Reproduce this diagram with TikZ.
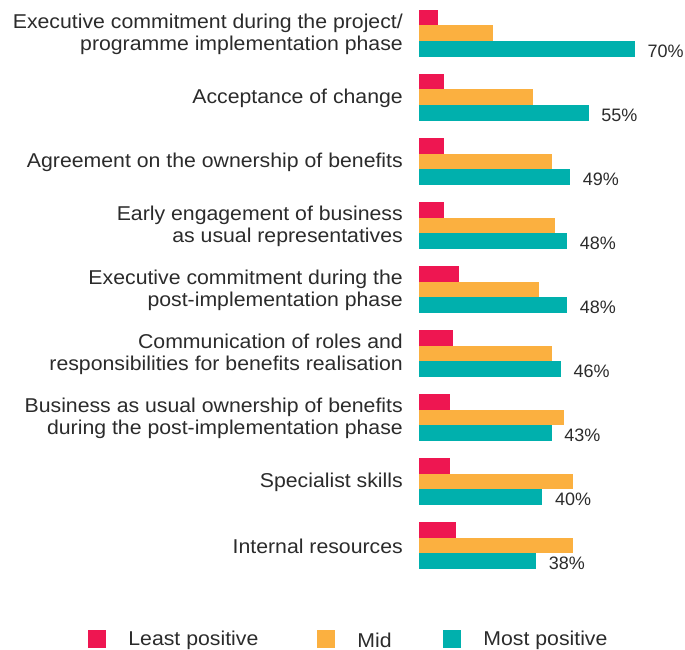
\documentclass[tikz,border=0pt]{standalone}
\usepackage{fontspec}
\setmainfont[FakeStretch=1.063]{Liberation Sans}
\newfontfamily\pctfont{Liberation Sans}
\usetikzlibrary{positioning}
\definecolor{leastred}{HTML}{EE1651}
\definecolor{midorange}{HTML}{FBB040}
\definecolor{mostteal}{HTML}{00B0AD}
\definecolor{labelgray}{HTML}{2B2B2B}

\begin{document}
\begin{tikzpicture}[x=1pt,y=-1pt,
    factor/.style={anchor=east,align=right,inner sep=0pt,text=labelgray,
      font=\fontsize{20}{22.5}\selectfont},
    pct/.style={anchor=base west,inner sep=0pt,text=labelgray,
      font=\pctfont\fontsize{18}{20}\selectfont},
    keybox/.style={minimum size=18pt,inner sep=0pt},
    keytext/.style={inner sep=0pt,text=labelgray,font=\fontsize{20}{22.5}\selectfont}]
  \useasboundingbox (0,0) rectangle (685,650);
  % bars: least / mid / most positive
  \foreach \txt/\lo/\mi/\hi [count=\i from 0] in {
      {Executive commitment during the project/\\programme implementation phase}/6/24/70,
      {Acceptance of change}/8/37/55,
      {Agreement on the ownership of benefits}/8/43/49,
      {Early engagement of business\\as usual representatives}/8/44/48,
      {Executive commitment during the\\post-implementation phase}/13/39/48,
      {Communication of roles and\\responsibilities for benefits realisation}/11/43/46,
      {Business as usual ownership of benefits\\during the post-implementation phase}/10/47/43,
      {Specialist skills}/10/50/40,
      {Internal resources}/12/50/38}{
    \pgfmathsetmacro{\ytop}{10+64*\i}
    \fill[leastred] (419,\ytop) rectangle ++(3.085*\lo,15.5);
    \fill[midorange] (419,\ytop+15.5) rectangle ++(3.085*\mi,15.5);
    \fill[mostteal] (419,\ytop+31) rectangle ++(3.085*\hi,16);
    \node[factor] (factor\i) at (403,\ytop+24.5) {\txt};
    \node[pct] (pct\i) at (419+3.085*\hi+12.5,\ytop+47.5) {\hi\%};
  }
  % legend
  \node[keybox,fill=leastred] (keyleast) at (96.5,638.5) {};
  \node[keytext,right=22.5pt of keyleast,yshift=-2pt] (txtleast) {Least positive};
  \node[keybox,fill=midorange] (keymid) at (326,638.5) {};
  \node[keytext,right=22pt of keymid,yshift=-2pt] (txtmid) {Mid};
  \node[keybox,fill=mostteal] (keymost) at (452,638.5) {};
  \node[keytext,right=22pt of keymost,yshift=-2pt] (txtmost) {Most positive};
\end{tikzpicture}
\end{document}
